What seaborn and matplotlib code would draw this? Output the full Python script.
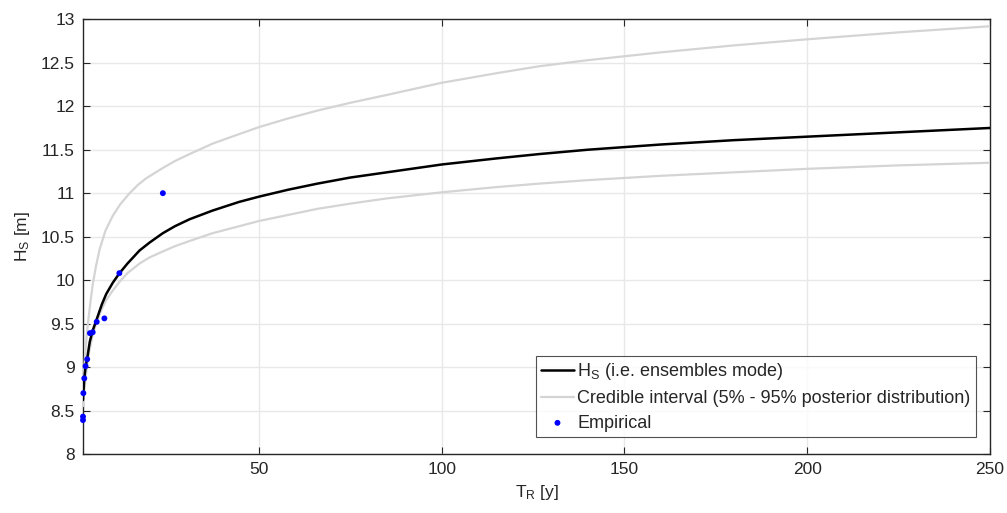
import numpy as np
import pandas as pd
import matplotlib
matplotlib.use("Agg")
import matplotlib.pyplot as plt
import seaborn as sns

# ---- data ----
t_mode = [1.85, 2.2, 2.55, 3.0, 3.7, 4.5, 5.6, 7.0, 8.2, 10.0, 11.84, 14.0, 17.3, 20.0,
          23.7, 27.0, 31.0, 37.3, 44.6, 50.0, 58.0, 66.0, 75.0, 85.0, 100.0, 115.0, 126.7,
          140.0, 160.0, 180.0, 200.0, 225.0, 250.0]
h_mode = [8.62, 8.87, 9.00, 9.10, 9.29, 9.42, 9.55, 9.72, 9.84, 9.97, 10.08, 10.19, 10.34, 10.43,
          10.54, 10.62, 10.70, 10.80, 10.90, 10.96, 11.04, 11.11, 11.18, 11.24, 11.33, 11.40, 11.45,
          11.50, 11.56, 11.61, 11.65, 11.70, 11.75]

t_upper = [1.85, 2.0, 2.25, 2.5, 2.8, 3.2, 3.8, 4.55, 5.4, 6.37, 8.0, 10.0, 12.0, 14.6, 17.0,
           19.1, 23.7, 27.0, 31.0, 37.3, 44.6, 50.0, 58.0, 66.0, 75.0, 85.0, 100.0, 115.0,
           126.7, 140.0, 160.0, 180.0, 200.0, 225.0, 250.0]
h_upper = [8.72, 8.85, 9.03, 9.18, 9.33, 9.50, 9.72, 9.96, 10.16, 10.35, 10.57, 10.74, 10.87,
           11.00, 11.10, 11.17, 11.29, 11.37, 11.45, 11.57, 11.68, 11.76, 11.86, 11.95, 12.04,
           12.13, 12.27, 12.38, 12.46, 12.53, 12.62, 12.70, 12.77, 12.85, 12.92]

t_lower = [1.85, 2.2, 2.5, 3.0, 3.64, 4.5, 5.47, 6.8, 8.2, 10.0, 11.84, 14.0, 17.3, 20.0, 23.7,
           27.0, 31.0, 37.3, 44.6, 50.0, 58.0, 66.0, 75.0, 85.0, 100.0, 115.0, 126.7, 140.0,
           160.0, 180.0, 200.0, 225.0, 250.0]
h_lower = [8.55, 8.72, 8.85, 9.03, 9.20, 9.37, 9.50, 9.65, 9.77, 9.88, 9.98, 10.08, 10.19, 10.26,
           10.33, 10.39, 10.45, 10.54, 10.62, 10.68, 10.75, 10.82, 10.88, 10.94, 11.01, 11.07,
           11.11, 11.15, 11.20, 11.24, 11.28, 11.32, 11.35]

t_emp = [1.85, 1.85, 1.95, 2.2, 2.55, 3.0, 3.75, 4.5, 5.6, 7.7, 11.8, 23.7]
h_emp = [8.39, 8.43, 8.70, 8.87, 9.01, 9.09, 9.39, 9.40, 9.52, 9.56, 10.08, 11.0]

x_ticks = [50, 100, 150, 200, 250]
y_ticks = [8, 8.5, 9, 9.5, 10, 10.5, 11, 11.5, 12, 12.5, 13]
y_tick_labels = ["8", "8.5", "9", "9.5", "10", "10.5", "11", "11.5", "12", "12.5", "13"]

sns.set_theme(style="white")
plt.rcParams["font.family"] = ["Liberation Sans", "DejaVu Sans"]
plt.rcParams["mathtext.fontset"] = "custom"
plt.rcParams["mathtext.rm"] = "Liberation Sans"
plt.rcParams["mathtext.it"] = "Liberation Sans"

fig = plt.figure(figsize=(10.07, 5.13), dpi=100)
ax = fig.add_axes([83 / 1007, 1 - 454 / 513, (990 - 83) / 1007, (454 - 19.3) / 513])

df_mode = pd.DataFrame({"T": t_mode, "H": h_mode})
df_up = pd.DataFrame({"T": t_upper, "H": h_upper})
df_lo = pd.DataFrame({"T": t_lower, "H": h_lower})
df_emp = pd.DataFrame({"T": t_emp, "H": h_emp})

gray = "#d4d4d4"
sns.lineplot(data=df_mode, x="T", y="H", ax=ax, color="black", lw=1.8, sort=False,
             label="H$_\\mathregular{S}$ (i.e. ensembles mode)", zorder=4)
sns.lineplot(data=df_up, x="T", y="H", ax=ax, color=gray, lw=1.6, sort=False,
             label="Credible interval (5% - 95% posterior distribution)", zorder=3)
sns.lineplot(data=df_lo, x="T", y="H", ax=ax, color=gray, lw=1.6, sort=False,
             label="_nolegend_", zorder=3)
sns.scatterplot(data=df_emp, x="T", y="H", ax=ax, color="#0000ff", s=18, edgecolor="none",
                label="Empirical", zorder=5, clip_on=False)

ax.set_xlim(1.85, 250)
ax.set_ylim(8, 13)
ax.set_xticks(x_ticks)
ax.set_xticklabels([str(v) for v in x_ticks])
ax.set_yticks(y_ticks)
ax.set_yticklabels(y_tick_labels)

ax.grid(True, color="#e8e8e8", lw=1.0)
ax.set_axisbelow(True)
for s in ax.spines.values():
    s.set_color("#262626")
    s.set_linewidth(1.0)
ax.tick_params(axis="both", direction="in", length=5, width=0.8, color="#262626",
               labelsize=12.5, labelcolor="#262626", top=True, right=True,
               bottom=True, left=True, pad=6)

ax.set_xlabel("T$_\\mathregular{R}$ [y]", fontsize=12.5, color="#262626", labelpad=4)
ax.set_ylabel("H$_\\mathregular{S}$ [m]", fontsize=12.5, color="#262626", labelpad=6)

leg = ax.legend(loc="lower right", bbox_to_anchor=(976 / 1007, 1 - 437 / 513),
                bbox_transform=fig.transFigure, fontsize=13, frameon=True, fancybox=False,
                handlelength=1.8, handletextpad=0.2, borderpad=0.3, labelspacing=0.42,
                borderaxespad=0)
leg.get_frame().set_edgecolor("#262626")
leg.get_frame().set_linewidth(0.8)

fig.savefig("out.png", dpi=100)
